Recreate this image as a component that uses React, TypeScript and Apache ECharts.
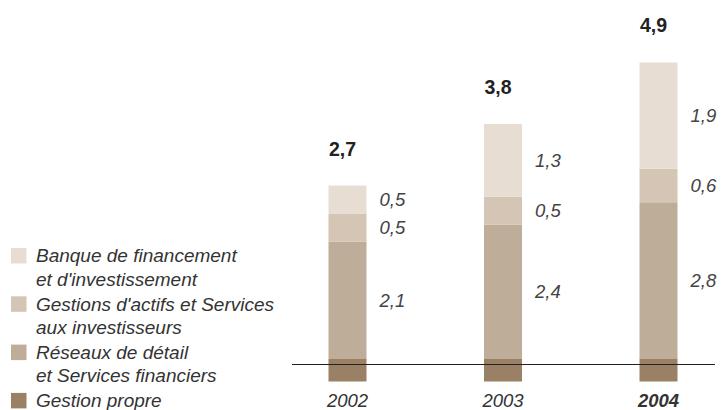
import React, { useEffect, useRef } from 'react';
import * as echarts from 'echarts';

const years = ['2002', '2003', '2004'];
const highlightYear = '2004';
const gestionPropre = [-0.4, -0.4, -0.4];
const reseaux = [2.1, 2.4, 2.8];
const gestionsActifs = [0.5, 0.5, 0.6];
const banque = [0.5, 1.3, 1.9];
const totals = [2.7, 3.8, 4.9];

const legendItems = [
  { name: 'Banque de financement\net d\'investissement', color: '#e8ddd3' },
  { name: 'Gestions d\'actifs et Services\naux investisseurs', color: '#d4c5b5' },
  { name: 'Réseaux de détail\net Services financiers', color: '#bead98' },
  { name: 'Gestion propre', color: '#9a8165' },
];

const FONT = '"Liberation Sans", Arial, Helvetica, sans-serif';
const fmt = (v: number) => v.toFixed(1).replace('.', ',');

const Y_MIN = -0.5;
const Y_MAX = 6;
const GRID_TOP = 23.2;
const GRID_H = 369.2;
const ZERO_Y = GRID_TOP + (GRID_H * (Y_MAX - 0)) / (Y_MAX - Y_MIN);

export default function App() {
  const ref = useRef<HTMLDivElement>(null);
  useEffect(() => {
    if (!ref.current) return;
    const chart = echarts.init(ref.current, undefined, { renderer: 'svg' });
    const segLabel = {
      show: true,
      position: 'right',
      distance: 13,
      color: '#444',
      fontStyle: 'italic',
      fontSize: 18.5,
      fontFamily: FONT,
      formatter: (p: any) => fmt(p.value),
    };
    const bar = (name: string, data: number[], color: string, label: any) => ({
      name,
      type: 'bar',
      stack: 'total',
      barWidth: 38,
      clip: false,
      data,
      itemStyle: { color },
      label,
      silent: true,
    });
    const legendGraphics: any[] = [];
    legendItems.forEach((it, i) => {
      const top = 248 + i * 48.3;
      legendGraphics.push({
        type: 'rect',
        shape: { x: 11, y: top, width: 15.5, height: 15.5 },
        style: { fill: it.color },
      });
      legendGraphics.push({
        type: 'text',
        x: 36,
        y: top + 7.75 - 11.75,
        style: {
          text: it.name,
          fill: '#333',
          font: `italic 19px ${FONT}`,
          lineHeight: 23.5,
          verticalAlign: 'top',
          align: 'left',
        },
      });
    });
    chart.setOption({
      animation: false,
      grid: { left: 347.5, top: GRID_TOP, width: 311, height: GRID_H },
      xAxis: {
        type: 'category',
        boundaryGap: false,
        data: years.map((y) => ({
          value: y,
          textStyle: { fontWeight: y === highlightYear ? 'bold' : 'normal' },
        })),
        axisLine: { show: false, onZero: false },
        axisTick: { show: false },
        axisLabel: {
          color: '#333',
          fontStyle: 'italic',
          fontSize: 18.5,
          fontFamily: FONT,
          margin: 4,
        },
      },
      yAxis: {
        type: 'value',
        min: Y_MIN,
        max: Y_MAX,
        show: false,
        splitLine: { show: false },
      },
      series: [
        bar('Gestion propre', gestionPropre, legendItems[3].color, { show: false }),
        bar('Réseaux de détail et Services financiers', reseaux, legendItems[2].color, segLabel),
        bar('Gestions d\'actifs et Services aux investisseurs', gestionsActifs, legendItems[1].color, segLabel),
        bar('Banque de financement et d\'investissement', banque, legendItems[0].color, segLabel),
        bar('Total', years.map(() => 0), 'transparent', {
          show: true,
          position: 'top',
          distance: 27,
          offset: [-5, 0],
          color: '#222',
          fontWeight: 'bold',
          fontSize: 19.5,
          fontFamily: FONT,
          formatter: (p: any) => fmt(totals[p.dataIndex]),
        }),
      ],
      graphic: [
        ...legendGraphics,
        {
          type: 'line',
          z: 100,
          shape: { x1: 292, y1: ZERO_Y + 0.5, x2: 715, y2: ZERO_Y + 0.5 },
          style: { stroke: '#222', lineWidth: 1.2 },
        },
      ],
    });
    return () => chart.dispose();
  }, []);
  return (
    <div
      ref={ref}
      style={{ position: 'fixed', left: 0, top: 0, width: 721, height: 410, background: '#fff' }}
    />
  );
}
